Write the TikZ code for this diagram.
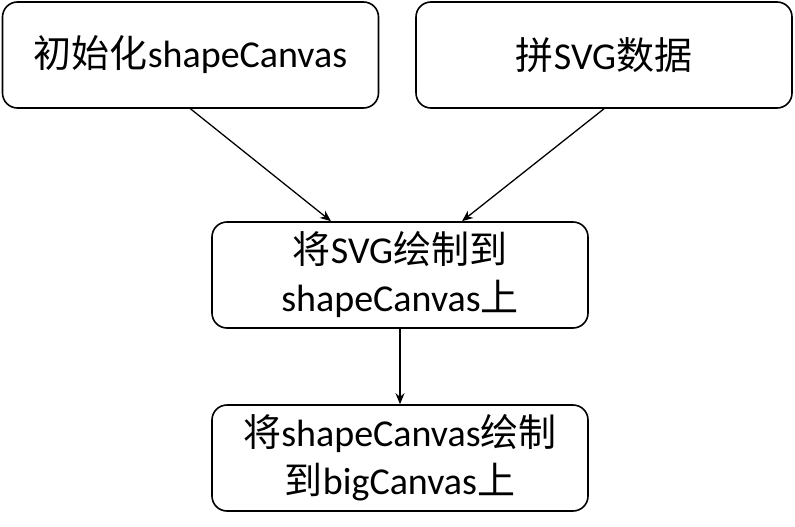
\documentclass[tikz,border=0pt]{standalone}
\usepackage{fontspec}
\setmainfont{Carlito}
\newfontfamily\cjk{Noto Sans CJK SC}
\usetikzlibrary{arrows.meta}
\begin{document}
\begin{tikzpicture}[x=1pt,y=-1pt,
  box/.style={draw,line width=1.6pt,rounded corners=15pt,minimum width=376pt,minimum height=106pt,
    align=center,inner sep=0pt,font=\fontsize{38}{48}\selectfont},
  arr/.style={line width=1.3pt,-{Stealth[length=11pt,width=9pt]}}]
\useasboundingbox (0,0) rectangle (795,527);
\node[box] (A) at (190.5,55) {{\cjk 初始化}shapeCanvas};
\node[box] (B) at (604,55) {{\cjk 拼}SVG{\cjk 数据}};
\node[box] (C) at (400,275) {{\cjk 将}SVG{\cjk 绘制到}\\shapeCanvas{\cjk 上}};
\node[box] (D) at (400,458) {{\cjk 将}shapeCanvas{\cjk 绘制}\\{\cjk 到}bigCanvas{\cjk 上}};
\draw[arr] (A.south) -- ([xshift=-69pt]C.north);
\draw[arr] (B.south) -- ([xshift=62pt]C.north);
\draw[arr] (C.south) -- (D.north);
\end{tikzpicture}
\end{document}
